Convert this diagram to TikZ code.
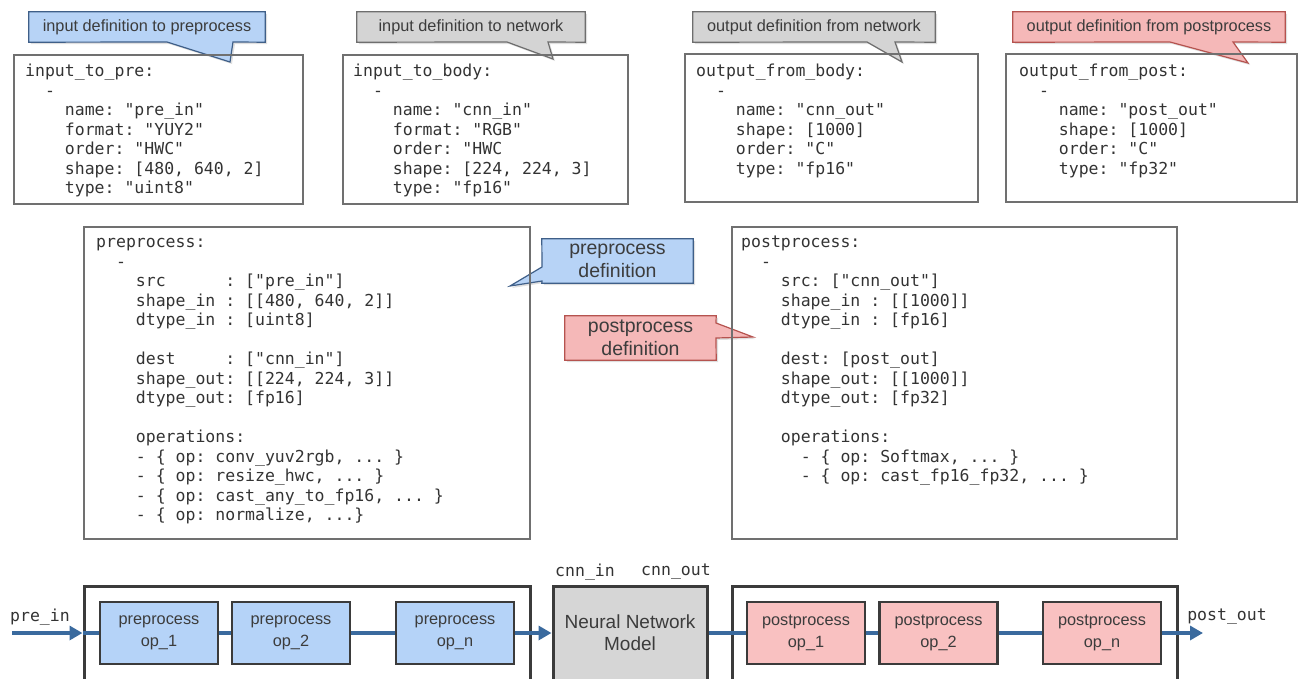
\documentclass[tikz,border=0pt]{standalone}
\usepackage{fontspec}
\setmainfont{Liberation Sans}
\setmonofont{DejaVu Sans Mono}
\usetikzlibrary{arrows.meta,shadows,backgrounds}

\definecolor{cblueF}{HTML}{B7D3F6}
\definecolor{cblueD}{HTML}{3F5F88}
\definecolor{cgrayF}{HTML}{D4D4D4}
\definecolor{cgrayD}{HTML}{6E6E6E}
\definecolor{credF}{HTML}{F5B8B8}
\definecolor{credD}{HTML}{B5534F}
\definecolor{opblue}{HTML}{B5D3F8}
\definecolor{opred}{HTML}{F9C1C1}
\definecolor{nngray}{HTML}{D6D6D6}
\definecolor{boxdark}{HTML}{3B3B3B}
\definecolor{flowblue}{HTML}{3A6A9E}
\definecolor{codeink}{HTML}{333333}
\definecolor{codeframe}{HTML}{707070}
\definecolor{labelink}{HTML}{3C3C3C}

% indentation measured in monospace character cells
\newcommand\ind[1]{\hspace*{#1\fontcharwd\font`0}}

\tikzset{
  codebox/.style={draw=codeframe, line width=1.2pt, inner sep=0pt},
  codetext/.style={font=\ttfamily\fontsize{16.5}{19.5}\selectfont, text=codeink,
    align=left, inner sep=0pt, anchor=north west},
  monolabel/.style={font=\ttfamily\fontsize{16.5}{19.5}\selectfont, text=codeink, inner sep=0pt},
  calloutlabel/.style={inner sep=0pt, font=\fontsize{16.3}{19}\selectfont, text=labelink, align=center},
  bigcallout/.style={inner sep=0pt, font=\fontsize{19.5}{23}\selectfont, text=labelink, align=center},
  calloutshape/.style={line width=1.2pt, drop shadow={shadow xshift=2pt, shadow yshift=-2pt, opacity=0.25}},
  bluecall/.style={calloutshape, fill=cblueF, draw=cblueD},
  graycall/.style={calloutshape, fill=cgrayF, draw=cgrayD},
  redcall/.style={calloutshape, fill=credF, draw=credD},
  outerbox/.style={draw=boxdark, line width=3pt, minimum width=#1, minimum height=94pt, inner sep=0pt},
  opbox/.style={draw=boxdark, line width=2.6pt, minimum width=118pt, minimum height=62pt,
    inner sep=0pt, align=center, font=\fontsize{16.3}{22}\selectfont, text=labelink},
  preop/.style={opbox, fill=opblue},
  postop/.style={opbox, fill=opred},
  flow/.style={draw=flowblue, line width=4pt},
  flowarrow/.style={flow, -{Triangle[length=13pt,width=14pt]}},
}

\begin{document}
\begin{tikzpicture}[x=1pt,y=-1pt]
\useasboundingbox (0,0) rectangle (1299,678);
\clip (0,0) rectangle (1299,678);

% ---------- input / output definition boxes ----------
\node[codebox, minimum width=289pt, minimum height=149pt] (b1) at (158.5,129.5) {};
\node[codetext] (t1) at (25,63) {\strut input\_to\_pre:\\
\ind{2}-\\
\ind{4}name: "pre\_in"\\
\ind{4}format: "YUY2"\\
\ind{4}order: "HWC"\\
\ind{4}shape: [480, 640, 2]\\
\ind{4}type: "uint8"};

\node[codebox, minimum width=285pt, minimum height=149pt] (b2) at (485.5,129.5) {};
\node[codetext] (t2) at (353,63) {\strut input\_to\_body:\\
\ind{2}-\\
\ind{4}name: "cnn\_in"\\
\ind{4}format: "RGB"\\
\ind{4}order: "HWC\\
\ind{4}shape: [224, 224, 3]\\
\ind{4}type: "fp16"};

\node[codebox, minimum width=293pt, minimum height=148pt] (b3) at (831.5,128) {};
\node[codetext] (t3) at (696,63) {\strut output\_from\_body:\\
\ind{2}-\\
\ind{4}name: "cnn\_out"\\
\ind{4}shape: [1000]\\
\ind{4}order: "C"\\
\ind{4}type: "fp16"};

\node[codebox, minimum width=291pt, minimum height=148pt] (b4) at (1151.5,128) {};
\node[codetext] (t4) at (1019,63) {\strut output\_from\_post:\\
\ind{2}-\\
\ind{4}name: "post\_out"\\
\ind{4}shape: [1000]\\
\ind{4}order: "C"\\
\ind{4}type: "fp32"};

% ---------- pre / post process definition boxes ----------
\node[codebox, minimum width=446pt, minimum height=312pt] (b5) at (307,383) {};
\node[codetext] (t5) at (96,234) {\strut preprocess:\\
\ind{2}-\\
\ind{4}src\ind{6}: ["pre\_in"]\\
\ind{4}shape\_in : [[480, 640, 2]]\\
\ind{4}dtype\_in : [uint8]\\
\mbox{}\\
\ind{4}dest\ind{5}: ["cnn\_in"]\\
\ind{4}shape\_out: [[224, 224, 3]]\\
\ind{4}dtype\_out: [fp16]\\
\mbox{}\\
\ind{4}operations:\\
\ind{4}- \{ op: conv\_yuv2rgb, ... \}\\
\ind{4}- \{ op: resize\_hwc, ... \}\\
\ind{4}- \{ op: cast\_any\_to\_fp16, ... \}\\
\ind{4}- \{ op: normalize, ...\}};

\node[codebox, minimum width=445pt, minimum height=312pt] (b6) at (954.5,383) {};
\node[codetext] (t6) at (741,234) {\strut postprocess:\\
\ind{2}-\\
\ind{4}src: ["cnn\_out"]\\
\ind{4}shape\_in : [[1000]]\\
\ind{4}dtype\_in : [fp16]\\
\mbox{}\\
\ind{4}dest: [post\_out]\\
\ind{4}shape\_out: [[1000]]\\
\ind{4}dtype\_out: [fp32]\\
\mbox{}\\
\ind{4}operations:\\
\ind{6}- \{ op: Softmax, ... \}\\
\ind{6}- \{ op: cast\_fp16\_fp32, ... \}};

% ---------- callout labels ----------
\node[calloutlabel, minimum width=236pt, minimum height=30pt] (c1) at (147,27) {input definition to preprocess};
\node[calloutlabel, minimum width=228pt, minimum height=30pt] (c2) at (471,27) {input definition to network};
\node[calloutlabel, minimum width=242pt, minimum height=30pt] (c3) at (814,27) {output definition from network};
\node[calloutlabel, minimum width=272pt, minimum height=30pt] (c4) at (1149,27) {output definition from postprocess};
\node[bigcallout, minimum width=151pt, minimum height=44pt] (c5) at (617.5,261) {preprocess\\definition};
\node[bigcallout, minimum width=151pt, minimum height=44pt] (c6) at (640.5,338) {postprocess\\definition};

\begin{scope}[on background layer]
  \filldraw[bluecall] (c1.north west) -- (c1.north east) -- (c1.south east)
    -- (233,42) -- (230,62) -- (167,42) -- (c1.south west) -- cycle;
  \filldraw[graycall] (c2.north west) -- (c2.north east) -- (c2.south east)
    -- (548,42) -- (553,59) -- (507,42) -- (c2.south west) -- cycle;
  \filldraw[graycall] (c3.north west) -- (c3.north east) -- (c3.south east)
    -- (895,42) -- (902,62) -- (867,42) -- (c3.south west) -- cycle;
  \filldraw[redcall] (c4.north west) -- (c4.north east) -- (c4.south east)
    -- (1233,42) -- (1248,63) -- (1170,42) -- (c4.south west) -- cycle;
  \filldraw[bluecall] (c5.north west) -- (c5.north east) -- (c5.south east)
    -- (c5.south west) -- (542,281) -- (510,286) -- (542,267) -- cycle;
  \filldraw[redcall] (c6.north west) -- (c6.north east) -- (716,323) -- (753,337)
    -- (716,338) -- (c6.south east) -- (c6.south west) -- cycle;
\end{scope}

% ---------- processing pipeline ----------
\node[outerbox=446pt] (preouter) at (307,633) {};
\node[outerbox=154pt, fill=nngray, align=center, font=\fontsize{19}{22}\selectfont, text=labelink]
  (nn) at (630,633) {Neural Network\\Model};
\node[outerbox=445pt] (postouter) at (954.5,633) {};

\node[preop] (pop1) at (159,633) {preprocess\\op\_1};
\node[preop] (pop2) at (291,633) {preprocess\\op\_2};
\node[preop] (popn) at (455,633) {preprocess\\op\_n};
\node[postop] (qop1) at (806,633) {postprocess\\op\_1};
\node[postop] (qop2) at (938.5,633) {postprocess\\op\_2};
\node[postop] (qopn) at (1102,633) {postprocess\\op\_n};

\node[monolabel] (lprein) at (40,617) {pre\_in};
\node[monolabel] (lcnnin) at (585,572) {cnn\_in};
\node[monolabel] (lcnnout) at (676,572) {cnn\_out};
\node[monolabel] (lpostout) at (1227,617) {post\_out};

\coordinate (prein) at (12,633);
\coordinate (postout) at (1203,633);

\draw[flowarrow] (prein) -- (preouter.west);
\draw[flow] (preouter.west) -- (pop1.west);
\draw[flow] (pop1) -- (pop2);
\draw[flow] (pop2) -- (popn);
\draw[flowarrow] (popn) -- (nn);
\draw[flow] (nn) -- (qop1);
\draw[flow] (qop1) -- (qop2);
\draw[flow] (qop2) -- (qopn);
\draw[flowarrow] (qopn) -- (postout);
\end{tikzpicture}
\end{document}
